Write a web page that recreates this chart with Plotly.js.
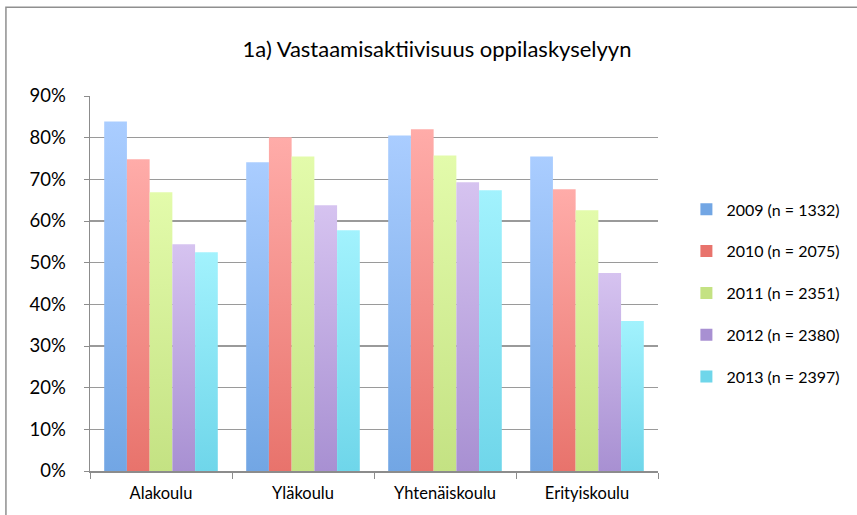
<!DOCTYPE html>
<html><head><meta charset="utf-8">
<script src="https://cdn.plot.ly/plotly-3.0.1.min.js"></script>
<style>html,body{margin:0;padding:0;background:#fff}#chart{width:857px;height:515px}</style>
</head><body><div id="chart"></div>
<script>
const categories = ["Alakoulu", "Yläkoulu", "Yhtenäiskoulu", "Erityiskoulu"];
const seriesNames = ["2009 (n = 1332)", "2010 (n = 2075)", "2011 (n = 2351)", "2012 (n = 2380)", "2013 (n = 2397)"];
const v2009 = [0.839, 0.741, 0.805, 0.755];
const v2010 = [0.748, 0.801, 0.820, 0.676];
const v2011 = [0.669, 0.755, 0.757, 0.626];
const v2012 = [0.544, 0.638, 0.693, 0.475];
const v2013 = [0.525, 0.578, 0.674, 0.360];
const values = [v2009, v2010, v2011, v2012, v2013];
const topColors = ["#aacdff", "#ffaca9", "#e3fbab", "#d6c3f0", "#a2f2fd"];
const botColors = ["#72a6e4", "#e8736c", "#c4e283", "#a890d2", "#6fd6ea"];
const midColors = ["#8fbaf3", "#f4918b", "#d4ef98", "#c0aae2", "#89e5f5"];

const traces = values.map((v, i) => ({
  type: "bar", x: categories, y: v, name: seriesNames[i],
  legendgroup: "g" + i,
  marker: {color: midColors[i], line: {width: 0}},
  hoverinfo: "skip"
}));

const layout = {
  width: 857, height: 515,
  margin: {l: 90, r: 199, t: 96, b: 44},
  paper_bgcolor: "#fff", plot_bgcolor: "#fff",
  font: {family: "Lato, 'Open Sans', sans-serif", color: "#000", size: 15},
  title: {text: "1a) Vastaamisaktiivisuus oppilaskyselyyn", x: 0.51, xanchor: "center", y: 0.905, yanchor: "middle",
          font: {size: 22, family: "Lato, sans-serif", color: "#000"}},
  bargap: 0.2, bargroupgap: 0,
  xaxis: {showline: true, linecolor: "#8c8c8c", linewidth: 1.5, ticks: "outside", tickson: "boundaries",
          ticklen: 6, tickcolor: "#8c8c8c", tickfont: {size: 16.5}, ticklabelstandoff: 7, showgrid: false, fixedrange: true},
  yaxis: {range: [0, 0.9], dtick: 0.1, tickformat: ".0%", showline: true, linecolor: "#8c8c8c", linewidth: 1.5,
          ticks: "outside", ticklen: 5, tickcolor: "#8c8c8c", gridcolor: "#9a9a9a", gridwidth: 1.5,
          tickfont: {size: 18.5}, ticklabelstandoff: 14, zeroline: false, fixedrange: true},
  legend: {x: 1.05, xanchor: "left", y: 0.475, yanchor: "middle", tracegroupgap: 18,
           font: {size: 16}, itemwidth: 30, traceorder: "grouped"},
  shapes: [{type: "rect", xref: "paper", yref: "paper", x0: -0.148, x1: 1.6, y0: -0.3, y1: 1.237,
            line: {color: "#8f8f8f", width: 1.5}, fillcolor: "rgba(0,0,0,0)", layer: "below"}]
};

function applyGradients(gd) {
  const svg = gd.querySelector("svg.main-svg");
  if (!svg) return;
  let defs = svg.querySelector("defs#gradDefs");
  if (!defs) {
    defs = document.createElementNS("http://www.w3.org/2000/svg", "defs");
    defs.id = "gradDefs";
    topColors.forEach((c, i) => {
      const g = document.createElementNS("http://www.w3.org/2000/svg", "linearGradient");
      g.id = "bg" + i; g.setAttribute("x1", "0"); g.setAttribute("y1", "0"); g.setAttribute("x2", "0"); g.setAttribute("y2", "1");
      g.setAttribute("gradientUnits", "objectBoundingBox");
      const s1 = document.createElementNS("http://www.w3.org/2000/svg", "stop");
      s1.setAttribute("offset", "0"); s1.setAttribute("stop-color", c);
      const s2 = document.createElementNS("http://www.w3.org/2000/svg", "stop");
      s2.setAttribute("offset", "1"); s2.setAttribute("stop-color", botColors[i]);
      g.appendChild(s1); g.appendChild(s2); defs.appendChild(g);
    });
    svg.insertBefore(defs, svg.firstChild);
  }
  gd.querySelectorAll(".barlayer .trace").forEach((t, i) => {
    t.querySelectorAll("path").forEach(p => { p.style.fill = "url(#bg" + i + ")"; });
  });
  gd.querySelectorAll(".legend .traces").forEach((t, i) => {
    t.querySelectorAll(".legendpoints path").forEach(p => { p.style.fill = botColors[i]; });
  });
}

Plotly.newPlot("chart", traces, layout, {staticPlot: true, displayModeBar: false}).then(gd => {
  applyGradients(gd);
  gd.on("plotly_afterplot", () => applyGradients(gd));
});
</script></body></html>
